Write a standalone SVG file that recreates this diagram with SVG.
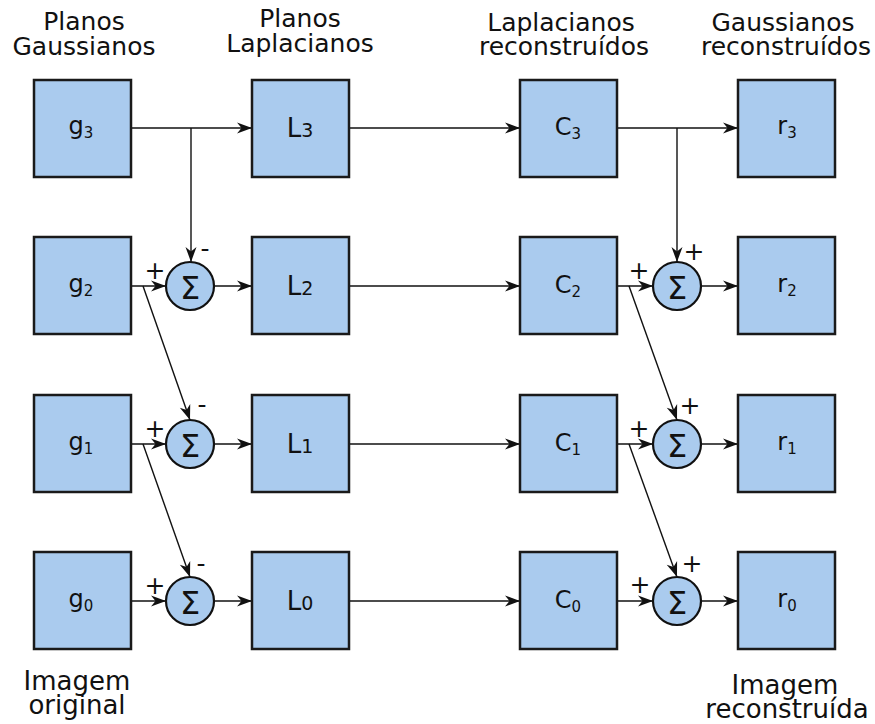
<svg xmlns="http://www.w3.org/2000/svg" width="875" height="724" viewBox="0 0 875 724">
<style>
text{font-family:"DejaVu Sans","Liberation Sans",sans-serif;fill:#111}
.hdr{font-size:25px;text-anchor:middle}
.bot{font-size:26px;text-anchor:middle}
.box{fill:#aacbee;stroke:#1a1a1a;stroke-width:2.5}
.sum{fill:#aacbee;stroke:#111;stroke-width:2.2}
.lbl{font-size:24px;text-anchor:middle}
.sub{font-size:15px}
.ll{font-size:26px;text-anchor:middle}
.lsub{font-size:19px}
.sig{font-size:32px;text-anchor:middle}
.sg{font-size:25px;text-anchor:middle}
.c{fill:none;stroke:#111;stroke-width:1.4;marker-end:url(#ah)}
</style>
<defs>
<marker id="ah" markerUnits="userSpaceOnUse" markerWidth="20" markerHeight="14" viewBox="-16 -7 18 14" refX="0" refY="0" orient="auto">
<path d="M0,0 L-15,-5.5 L-10.5,0 L-15,5.5 Z" fill="#111"/>
</marker>
</defs>
<g id="headers">
<text class="hdr" x="84" y="30">Planos</text>
<text class="hdr" x="84" y="55">Gaussianos</text>
<text class="hdr" x="300" y="27">Planos</text>
<text class="hdr" x="300" y="52">Laplacianos</text>
<text class="hdr" x="561" y="31">Laplacianos</text>
<text class="hdr" x="564" y="55">reconstruídos</text>
<text class="hdr" x="783" y="31">Gaussianos</text>
<text class="hdr" x="786" y="55">reconstruídos</text>
<text class="bot" x="77" y="690">Imagem</text>
<text class="bot" x="77" y="714">original</text>
<text class="bot" x="785" y="694">Imagem</text>
<text class="bot" x="787" y="718">reconstruída</text>
</g>
<g id="connectors">
<path class="c" d="M131,128 H252"/>
<path class="c" d="M191,128 V262"/>
<path class="c" d="M349,128 H520"/>
<path class="c" d="M617,128 H738"/>
<path class="c" d="M677,128 V262"/>
<path class="c" d="M131,286 H166"/>
<path class="c" d="M143,286 L190,420"/>
<path class="c" d="M214,286 H252"/>
<path class="c" d="M349,286 H520"/>
<path class="c" d="M617,286 H653"/>
<path class="c" d="M629,286 L677,420"/>
<path class="c" d="M701,286 H738"/>
<path class="c" d="M131,444 H166"/>
<path class="c" d="M143,444 L190,577"/>
<path class="c" d="M214,444 H252"/>
<path class="c" d="M349,444 H520"/>
<path class="c" d="M617,444 H653"/>
<path class="c" d="M629,444 L677,577"/>
<path class="c" d="M701,444 H738"/>
<path class="c" d="M131,601 H166"/>
<path class="c" d="M214,601 H252"/>
<path class="c" d="M349,601 H520"/>
<path class="c" d="M617,601 H653"/>
<path class="c" d="M701,601 H738"/>
</g>
<g id="g3"><rect class="box" x="34" y="80" width="97" height="97"/><text class="lbl" x="81" y="134">g<tspan class="sub" dy="4">3</tspan></text></g>
<g id="g2"><rect class="box" x="34" y="237" width="97" height="97"/><text class="lbl" x="81" y="292">g<tspan class="sub" dy="4">2</tspan></text></g>
<g id="g1"><rect class="box" x="34" y="395" width="97" height="97"/><text class="lbl" x="81" y="450">g<tspan class="sub" dy="4">1</tspan></text></g>
<g id="g0"><rect class="box" x="34" y="552" width="97" height="97"/><text class="lbl" x="81" y="607">g<tspan class="sub" dy="4">0</tspan></text></g>
<g id="L3"><rect class="box" x="252" y="80" width="97" height="97"/><text class="ll" x="300" y="137">L<tspan class="lsub">3</tspan></text></g>
<g id="L2"><rect class="box" x="252" y="237" width="97" height="97"/><text class="ll" x="300" y="295">L<tspan class="lsub">2</tspan></text></g>
<g id="L1"><rect class="box" x="252" y="395" width="97" height="97"/><text class="ll" x="300" y="453">L<tspan class="lsub">1</tspan></text></g>
<g id="L0"><rect class="box" x="252" y="552" width="97" height="97"/><text class="ll" x="300" y="610">L<tspan class="lsub">0</tspan></text></g>
<g id="C3"><rect class="box" x="520" y="80" width="97" height="97"/><text class="lbl" x="568" y="135">C<tspan class="sub" dy="4">3</tspan></text></g>
<g id="C2"><rect class="box" x="520" y="237" width="97" height="97"/><text class="lbl" x="568" y="293">C<tspan class="sub" dy="4">2</tspan></text></g>
<g id="C1"><rect class="box" x="520" y="395" width="97" height="97"/><text class="lbl" x="568" y="451">C<tspan class="sub" dy="4">1</tspan></text></g>
<g id="C0"><rect class="box" x="520" y="552" width="97" height="97"/><text class="lbl" x="568" y="608">C<tspan class="sub" dy="4">0</tspan></text></g>
<g id="r3"><rect class="box" x="738" y="80" width="97" height="97"/><text class="lbl" x="787" y="134">r<tspan class="sub" dy="4">3</tspan></text></g>
<g id="r2"><rect class="box" x="738" y="237" width="97" height="97"/><text class="lbl" x="787" y="292">r<tspan class="sub" dy="4">2</tspan></text></g>
<g id="r1"><rect class="box" x="738" y="395" width="97" height="97"/><text class="lbl" x="787" y="450">r<tspan class="sub" dy="4">1</tspan></text></g>
<g id="r0"><rect class="box" x="738" y="552" width="97" height="97"/><text class="lbl" x="787" y="607">r<tspan class="sub" dy="4">0</tspan></text></g>
<g id="sumL2"><circle class="sum" cx="190" cy="286" r="24"/><text class="sig" x="190" y="299">Σ</text><text class="sg" x="155" y="279">+</text><text class="sg" x="205" y="257">-</text></g>
<g id="sumL1"><circle class="sum" cx="190" cy="444" r="24"/><text class="sig" x="190" y="457">Σ</text><text class="sg" x="155" y="437">+</text><text class="sg" x="202" y="413">-</text></g>
<g id="sumL0"><circle class="sum" cx="190" cy="601" r="24"/><text class="sig" x="190" y="614">Σ</text><text class="sg" x="155" y="594">+</text><text class="sg" x="201" y="572">-</text></g>
<g id="sumR2"><circle class="sum" cx="677" cy="286" r="24"/><text class="sig" x="677" y="299">Σ</text><text class="sg" x="639" y="279">+</text><text class="sg" x="694" y="260">+</text></g>
<g id="sumR1"><circle class="sum" cx="677" cy="444" r="24"/><text class="sig" x="677" y="457">Σ</text><text class="sg" x="639" y="437">+</text><text class="sg" x="690" y="414">+</text></g>
<g id="sumR0"><circle class="sum" cx="677" cy="601" r="24"/><text class="sig" x="677" y="614">Σ</text><text class="sg" x="640" y="593">+</text><text class="sg" x="692" y="572">+</text></g>
</svg>
